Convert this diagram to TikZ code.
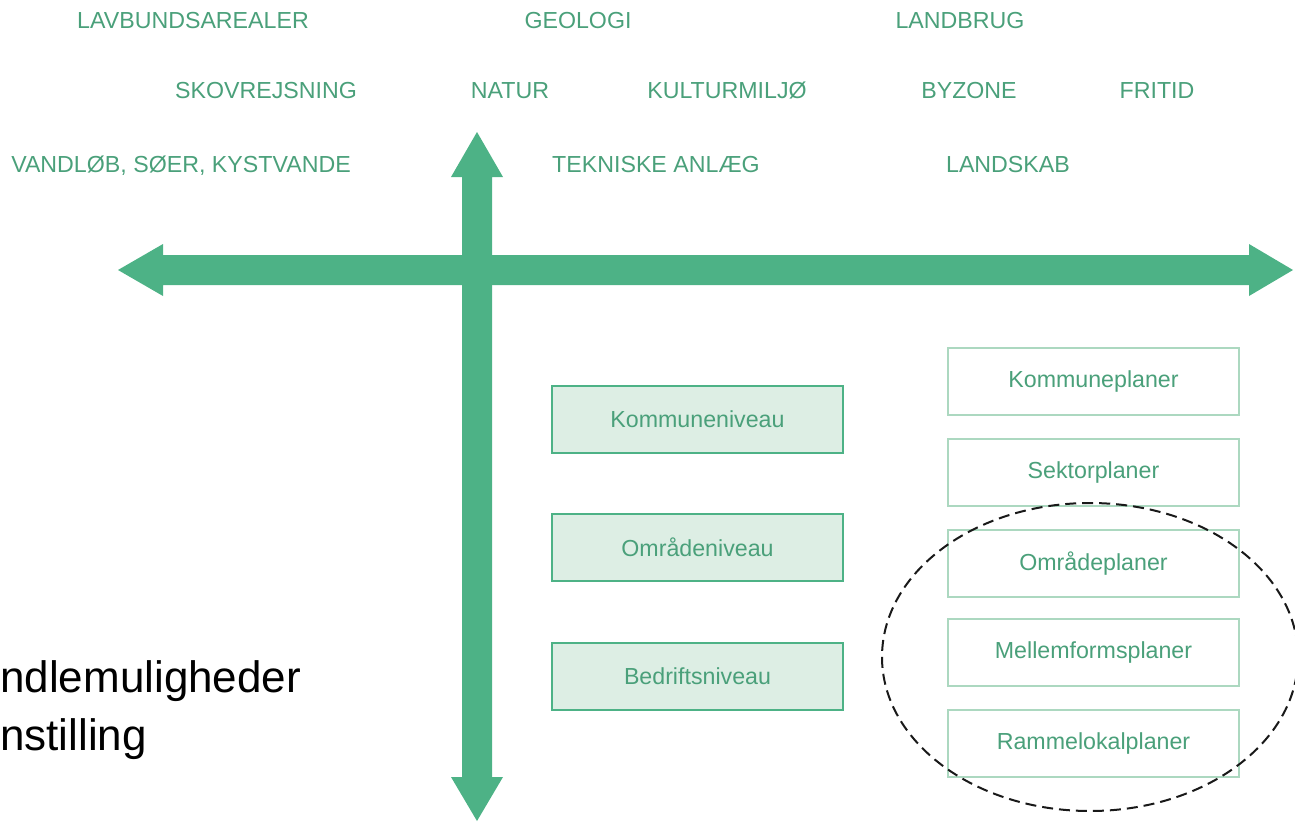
\documentclass[tikz,border=0pt]{standalone}
\usepackage{fontspec}
\setmainfont{Liberation Sans}
\usetikzlibrary{shapes.geometric}
\definecolor{arrowgreen}{RGB}{77,178,134}
\definecolor{textgreen}{RGB}{74,160,122}
\definecolor{boxfill}{RGB}{221,238,228}
\definecolor{lightborder}{RGB}{172,216,192}
\tikzset{
  topic/.style={anchor=base, text=textgreen, inner sep=0pt, font=\fontsize{23.2}{27}\selectfont},
  levelbox/.style={draw=arrowgreen, line width=2pt, fill=boxfill, minimum width=291pt, minimum height=67pt, inner sep=0pt, text=textgreen, font=\fontsize{23.2}{27}\selectfont},
  planbox/.style={draw=lightborder, line width=2pt, fill=white, minimum width=291pt, minimum height=67pt, inner sep=0pt, text=textgreen, font=\fontsize{23.2}{27}\selectfont},
  bigtext/.style={anchor=base west, inner sep=0pt, font=\fontsize{44}{52}\selectfont},
  axis/.style={fill=arrowgreen},
  ring/.style={draw=black!90, line width=2pt, dash pattern=on 11pt off 6pt}
}
\begin{document}
\begin{tikzpicture}[x=1pt,y=-1pt]
\useasboundingbox (0,0) rectangle (1295,822);
\clip (0,0) rectangle (1295,822);
% horizontal axis
\fill[axis] (118,270) -- (163,244) -- (163,255) -- (1249,255) -- (1249,244) -- (1293,270)
  -- (1249,296) -- (1249,285) -- (163,285) -- (163,296) -- cycle;
% vertical axis
\fill[axis] (477,132) -- (503,177) -- (492,177) -- (492,777) -- (503,777) -- (477,821)
  -- (451,777) -- (462,777) -- (462,177) -- (451,177) -- cycle;
% topics
\node[topic] (lav) at (193,28) {LAVBUNDSAREALER};
\node[topic] (geo) at (578,28) {GEOLOGI};
\node[topic] (lbr) at (960,28) {LANDBRUG};
\node[topic] (skov) at (266,98) {SKOVREJSNING};
\node[topic] (nat) at (510,98) {NATUR};
\node[topic] (kult) at (727,98) {KULTURMILJØ};
\node[topic] (byz) at (969,98) {BYZONE};
\node[topic] (fri) at (1157,98) {FRITID};
\node[topic] (vand) at (181,172) {VANDLØB, SØER, KYSTVANDE};
\node[topic] (tek) at (656,172) {TEKNISKE ANLÆG};
\node[topic] (lsk) at (1008,172) {LANDSKAB};
% level boxes
\node[levelbox] (kn) at (697.5,419) {Kommuneniveau};
\node[levelbox] (on) at (697.5,547.5) {Områdeniveau};
\node[levelbox] (bn) at (697.5,676.5) {Bedriftsniveau};
% plan boxes
\node[planbox] (kp) at (1093.5,381.5) {Kommuneplaner};
\node[planbox] (sp) at (1093.5,472.5) {Sektorplaner};
\node[planbox] (op) at (1093.5,563.5) {Områdeplaner};
\node[planbox] (mp) at (1093.5,652.5) {Mellemformsplaner};
\node[planbox] (rp) at (1093.5,743.5) {Rammelokalplaner};
% dashed ellipse
\draw[ring] (1090,657) ellipse [x radius=208, y radius=154];
% left text
\node[bigtext] (t1) at (0,692) {ndlemuligheder};
\node[bigtext] (t2) at (0,750) {nstilling};
\end{tikzpicture}
\end{document}
